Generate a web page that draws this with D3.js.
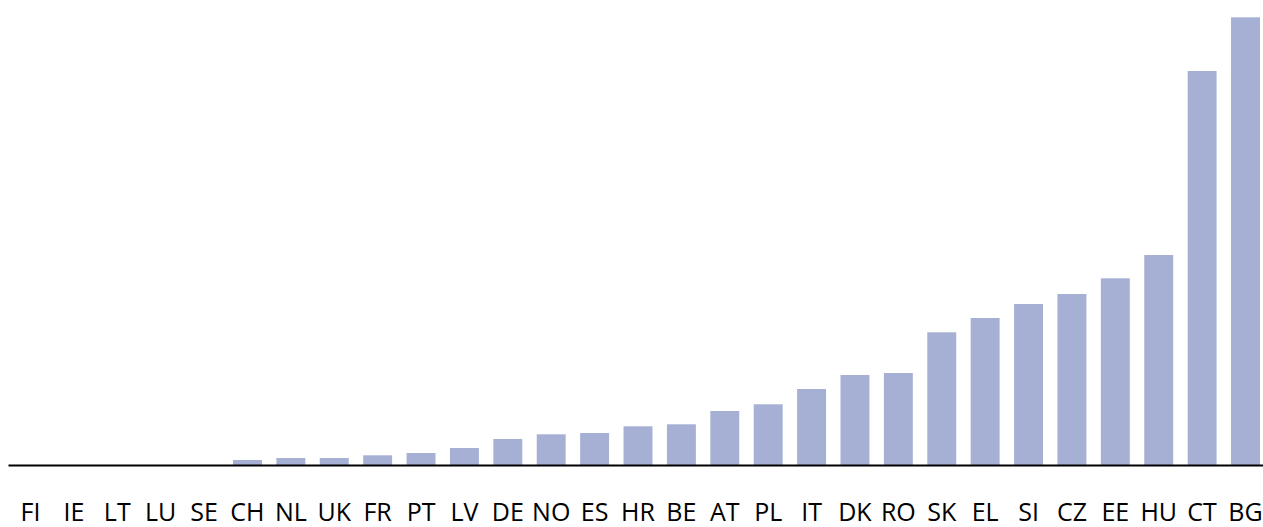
<!DOCTYPE html>
<html>
<head>
<meta charset="utf-8">
<script src="https://cdn.jsdelivr.net/npm/d3@7"></script>
<style>
  html, body { margin: 0; padding: 0; background: #ffffff; }
  svg { display: block; }
</style>
</head>
<body>
<svg id="chart" width="1263" height="527"></svg>
<script>
const categories = ["FI","IE","LT","LU","SE","CH","NL","UK","FR","PT","LV","DE","NO","ES","HR","BE","AT","PL","IT","DK","RO","SK","EL","SI","CZ","EE","HU","CT","BG"];
const values = [0,0,0,0,0,5,7,7,9.7,12,17,26,30.7,32,38.7,40.7,54,60.7,76,90,92,132.7,147,161,171,186.7,210,394,447.7];
const yMax = 448;

const svg = d3.select("#chart");
const baseY = 465;
const topY = 17;

const x = d3.scaleBand()
  .domain(categories)
  .range([8.8, 1267.2])
  .paddingInner(0.333)
  .paddingOuter(0.1665);

const y = d3.scaleLinear().domain([0, yMax]).range([baseY, topY]);

svg.append("g")
  .selectAll("rect")
  .data(categories.map((c, i) => ({c, v: values[i]})))
  .join("rect")
  .attr("x", d => x(d.c))
  .attr("width", x.bandwidth())
  .attr("y", d => y(d.v))
  .attr("height", d => baseY - y(d.v))
  .attr("fill", "#a6b0d4");

svg.append("line")
  .attr("x1", 8.5).attr("x2", 1263)
  .attr("y1", baseY + 0.5).attr("y2", baseY + 0.5)
  .attr("stroke", "#000").attr("stroke-width", 2);

svg.append("g")
  .selectAll("text")
  .data(categories)
  .join("text")
  .attr("x", d => x(d) + x.bandwidth() / 2)
  .attr("y", 521)
  .attr("text-anchor", "middle")
  .attr("font-family", "'Open Sans', 'Noto Sans', sans-serif")
  .attr("font-size", 25)
  .attr("fill", "#000")
  .text(d => d);
</script>
</body>
</html>
